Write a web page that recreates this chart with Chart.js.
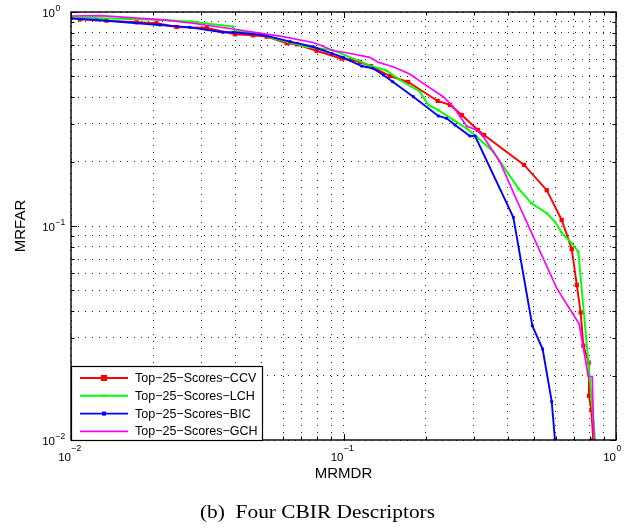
<!DOCTYPE html>
<html>
<head>
<meta charset="utf-8">
<script src="https://cdn.jsdelivr.net/npm/chart.js@4.4.0/dist/chart.umd.min.js"></script>
<style>
  html, body { margin: 0; padding: 0; background: #fff; }
  #wrap { width: 636px; height: 529px; }
</style>
</head>
<body>
<div id="wrap"><canvas id="chart" width="636" height="529"></canvas></div>
<script>
// series values (x = MRMDR, y = MRFAR)
const ccvX = [0.01, 0.0108, 0.0135, 0.0174, 0.0206, 0.0244, 0.0315, 0.040, 0.0466, 0.0523, 0.0619, 0.0674, 0.0797, 0.0985, 0.107, 0.115, 0.126, 0.148, 0.1725, 0.2216, 0.246, 0.2716, 0.311, 0.328, 0.46, 0.557, 0.632, 0.688, 0.718, 0.742, 0.759, 0.794, 0.796, 0.812, 0.825];
const ccvY = [0.937, 0.924, 0.911, 0.895, 0.886, 0.851, 0.842, 0.787, 0.778, 0.767, 0.714, 0.706, 0.659, 0.605, 0.597, 0.584, 0.559, 0.502, 0.471, 0.384, 0.368, 0.330, 0.281, 0.266, 0.193, 0.147, 0.1067, 0.078, 0.053, 0.0394, 0.0276, 0.023, 0.0161, 0.0138, 0.01];

const lchX = [0.01, 0.0221, 0.0277, 0.0393, 0.040, 0.0494, 0.0551, 0.0619, 0.0733, 0.0915, 0.125, 0.144, 0.161, 0.191, 0.2047, 0.2228, 0.253, 0.283, 0.308, 0.3545, 0.438, 0.49, 0.557, 0.597, 0.632, 0.688, 0.727, 0.803, 0.838];
const lchY = [0.944, 0.918, 0.901, 0.854, 0.815, 0.795, 0.754, 0.727, 0.688, 0.664, 0.561, 0.532, 0.481, 0.424, 0.368, 0.348, 0.313, 0.286, 0.261, 0.2225, 0.150, 0.1277, 0.1147, 0.1047, 0.093, 0.083, 0.0759, 0.019, 0.01];

const bicX = [0.01, 0.0124, 0.0212, 0.0273, 0.0361, 0.0393, 0.0507, 0.0637, 0.0773, 0.0905, 0.0998, 0.1166, 0.128, 0.140, 0.1516, 0.1804, 0.2228, 0.239, 0.2566, 0.291, 0.304, 0.42, 0.493, 0.538, 0.581, 0.597];
const bicY = [0.934, 0.918, 0.869, 0.848, 0.804, 0.804, 0.781, 0.727, 0.688, 0.641, 0.614, 0.559, 0.546, 0.508, 0.472, 0.402, 0.3266, 0.3186, 0.2965, 0.2634, 0.2634, 0.1098, 0.0342, 0.0266, 0.0151, 0.01];

const gchX = [0.01, 0.0128, 0.0218, 0.028, 0.0393, 0.060, 0.0773, 0.082, 0.0918, 0.1027, 0.125, 0.134, 0.152, 0.175, 0.196, 0.2324, 0.253, 0.283, 0.308, 0.326, 0.375, 0.432, 0.606, 0.733, 0.791, 0.818, 0.830];
const gchY = [0.958, 0.961, 0.918, 0.886, 0.833, 0.767, 0.72, 0.701, 0.659, 0.645, 0.614, 0.582, 0.555, 0.513, 0.464, 0.402, 0.361, 0.293, 0.281, 0.261, 0.1998, 0.1323, 0.0512, 0.0348, 0.0198, 0.0198, 0.01];

const seriesNames = ['Top\u221225\u2212Scores\u2212CCV', 'Top\u221225\u2212Scores\u2212LCH', 'Top\u221225\u2212Scores\u2212BIC', 'Top\u221225\u2212Scores\u2212GCH'];

// axis decades and their labels
const decades = [0.01, 0.1, 1];
const decadeExp = ['\u22122', '\u22121', '0'];
const xTitle = 'MRMDR';
const yTitle = 'MRFAR';
const caption = '(b)  Four CBIR Descriptors';

const grid = [];
for (let e = -2; e < 0; e++) for (let m = 1; m <= 9; m++) grid.push(+(m * Math.pow(10, e)).toPrecision(3));
grid.push(1);

const pts = (xs, ys) => xs.map((x, i) => ({ x, y: ys[i] }));
const isDecade = v => Math.abs(Math.log10(v) - Math.round(Math.log10(v))) < 1e-9;

const styles = [
  { color: '#ff0000', width: 1.9, pointStyle: 'rect', radius: 3 },
  { color: '#00ff00', width: 1.9, pointStyle: 'circle', radius: 1.3 },
  { color: '#0000ff', width: 1.9, pointStyle: 'rect', radius: 2 },
  { color: '#ff00ff', width: 1.7, pointStyle: 'circle', radius: 0 }
];
const data = [pts(ccvX, ccvY), pts(lchX, lchY), pts(bicX, bicY), pts(gchX, gchY)];

const axisCommon = {
  type: 'logarithmic', min: 0.01, max: 1,
  ticks: { display: false },
  grid: { color: 'rgba(0,0,0,0.85)', lineWidth: 1, drawTicks: false },
  border: { display: false, dash: [1, 6] },
  title: { display: false },
  afterBuildTicks: s => { s.ticks = grid.map(v => ({ value: v })); }
};

const decor = {
  id: 'decor',
  afterDraw(chart) {
    const { ctx, chartArea: a, scales: { x, y } } = chart;
    ctx.save();
    ctx.strokeStyle = '#000';
    ctx.lineWidth = 1;
    ctx.beginPath();
    grid.forEach(v => {
      const len = isDecade(v) ? 6 : 3.5;
      const px = Math.round(x.getPixelForValue(v)) + 0.5;
      ctx.moveTo(px, a.bottom); ctx.lineTo(px, a.bottom - len);
      ctx.moveTo(px, a.top); ctx.lineTo(px, a.top + len);
      const py = Math.round(y.getPixelForValue(v)) + 0.5;
      ctx.moveTo(a.left, py); ctx.lineTo(a.left + len, py);
      ctx.moveTo(a.right, py); ctx.lineTo(a.right - len, py);
    });
    ctx.stroke();
    ctx.lineWidth = 1.4;
    ctx.strokeRect(a.left, a.top, a.right - a.left, a.bottom - a.top);

    // tick labels 10^n
    ctx.fillStyle = '#000';
    ctx.textBaseline = 'alphabetic';
    decades.forEach((v, i) => {
      const px = x.getPixelForValue(v);
      ctx.font = '11.5px "Liberation Sans", Arial, sans-serif';
      ctx.textAlign = 'right';
      ctx.fillText('10', px, a.bottom + 20.5);
      ctx.font = '8.5px "Liberation Sans", Arial, sans-serif';
      ctx.textAlign = 'left';
      ctx.fillText(decadeExp[i], px + 0.5, a.bottom + 11);

      const py = y.getPixelForValue(v);
      ctx.font = '11.5px "Liberation Sans", Arial, sans-serif';
      ctx.textAlign = 'right';
      ctx.fillText('10', a.left - 16, py + 4.5);
      ctx.font = '8.5px "Liberation Sans", Arial, sans-serif';
      ctx.textAlign = 'left';
      ctx.fillText(decadeExp[i], a.left - 15.5, py - 1);
    });

    // axis titles
    ctx.font = '15px "Liberation Sans", Arial, sans-serif';
    ctx.textAlign = 'center';
    ctx.textBaseline = 'middle';
    ctx.fillText(xTitle, (a.left + a.right) / 2, a.bottom + 34);
    ctx.save();
    ctx.translate(21, (a.top + a.bottom) / 2);
    ctx.rotate(-Math.PI / 2);
    ctx.fillText(yTitle, 0, 0);
    ctx.restore();

    // legend box
    const lx = a.left, ly = a.bottom - 74, lw = 191, lh = 74;
    ctx.fillStyle = '#fff';
    ctx.fillRect(lx, ly, lw, lh);
    ctx.lineWidth = 1.2;
    ctx.strokeStyle = '#000';
    ctx.strokeRect(lx + 0.5, ly + 0.5, lw, lh);
    ctx.font = '12.5px "Liberation Sans", Arial, sans-serif';
    ctx.textAlign = 'left';
    ctx.textBaseline = 'middle';
    seriesNames.forEach((name, i) => {
      const ry = ly + 12 + i * 17.8;
      const s = styles[i];
      ctx.strokeStyle = s.color;
      ctx.lineWidth = s.width;
      ctx.beginPath();
      ctx.moveTo(lx + 9, ry); ctx.lineTo(lx + 57, ry);
      ctx.stroke();
      if (s.radius > 0) {
        ctx.fillStyle = s.color;
        if (s.pointStyle === 'rect') ctx.fillRect(lx + 33 - s.radius, ry - s.radius, s.radius * 2, s.radius * 2);
        else { ctx.beginPath(); ctx.arc(lx + 33, ry, s.radius, 0, Math.PI * 2); ctx.fill(); }
      }
      ctx.fillStyle = '#000';
      ctx.fillText(name, lx + 64, ry + 0.5);
    });

    // caption
    ctx.font = '19px "Liberation Serif", "Times New Roman", serif';
    ctx.textBaseline = 'alphabetic';
    ctx.textAlign = 'left';
    const w = ctx.measureText(caption).width;
    ctx.save();
    ctx.translate(200, 518);
    ctx.scale(235 / w, 1);
    ctx.fillText(caption, 0, 0);
    ctx.restore();
    ctx.restore();
  }
};

new Chart(document.getElementById('chart').getContext('2d'), {
  type: 'line',
  data: {
    datasets: data.map((d, i) => ({
      label: seriesNames[i],
      data: d,
      borderColor: styles[i].color,
      backgroundColor: styles[i].color,
      borderWidth: styles[i].width,
      pointStyle: styles[i].pointStyle,
      pointRadius: styles[i].radius,
      pointBorderWidth: 0,
      tension: 0,
      fill: false,
      order: 3 - i
    }))
  },
  options: {
    responsive: false,
    animation: false,
    layout: { padding: { left: 71, right: 20, top: 12, bottom: 89 } },
    plugins: { legend: { display: false }, tooltip: { enabled: false } },
    scales: {
      x: Object.assign({}, axisCommon, { position: 'bottom', afterFit: s => { s.height = 0; } }),
      y: Object.assign({}, axisCommon, { position: 'left', afterFit: s => { s.width = 0; } })
    }
  },
  plugins: [decor]
});
</script>
</body>
</html>
